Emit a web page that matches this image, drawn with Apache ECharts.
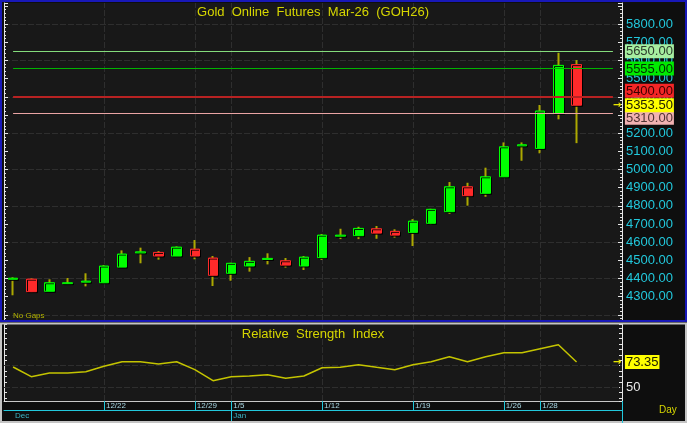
<!DOCTYPE html>
<html><head><meta charset="utf-8">
<script src="https://cdn.jsdelivr.net/npm/echarts@6/dist/echarts.min.js"></script>
<style>html,body{margin:0;padding:0;background:#0e0e0e;}#c{width:687px;height:423px;}</style>
</head><body><div id="c"></div><script>
// ---------------- data ----------------
const dates = ['12/15','12/16','12/17','12/18','12/19','12/22','12/23','12/24','12/25','12/26','12/29','12/30',
  '1/5','1/6','1/7','1/8','1/9','1/12','1/13','1/14','1/15','1/16','1/19','1/20','1/21','1/22','1/23',
  '1/26','1/27','1/28','1/29','1/30'];
const open  = [4396,4397,4330,4372,4380,4377,4463,4541,4544,4524,4562,4513,4429,4469,4505,4498,4469,4515,4633,4636,4674,4660,4654,4704,4768,4905,4869,4960,5130,5116,5309,5577];
const high  = [4407,4401,4396,4403,4429,4474,4555,4570,4551,4577,4612,4524,4487,4518,4539,4513,4524,4645,4674,4685,4689,4671,4727,4784,4931,4927,5010,5149,5149,5355,5642,5602];
const low   = [4308,4322,4328,4368,4357,4371,4460,4484,4504,4522,4506,4359,4388,4438,4478,4460,4447,4502,4617,4617,4619,4625,4579,4696,4755,4801,4850,4957,5048,5089,5276,5145];
const close = [4402,4328,4377,4377,4386,4469,4535,4547,4524,4573,4524,4418,4484,4495,4511,4474,4518,4639,4639,4676,4650,4639,4716,4781,4905,4856,4960,5125,5136,5322,5573,5353.5];
const rsi   = [68.8,59.8,63.2,63.2,64.4,69.4,73.7,73.7,71.6,73.7,66.3,56.1,59.8,60.5,61.7,58.3,60.5,68.1,68.5,70.9,68.5,66.3,70.9,73.7,78.3,73.7,78.3,82.0,82.0,85.7,89.4,73.35];
const levels = [5650, 5555, 5400, 5310];
const priceLabelRange = [4300, 5800];
const weekTicks = ['12/22','12/29','1/5','1/12','1/19','1/26','1/28'];
const monthStarts = ['12/15','1/5'];
const monthNames = ['Dec','Jan'];
const rsiGridLevels = [50, 70];
const rsiAxisLabels = [50];
const titleText = 'Gold  Online  Futures  Mar-26  (GOH26)';
const rsiTitle = 'Relative  Strength  Index';

// ---------------- styles ----------------
const FONT = 'Liberation Sans, Arial, sans-serif';
const levelStyle = [
  {line: '#84dc7c', width: 1, bg: '#a6eea0', fg: '#2c3a2c', shift: 0},
  {line: '#00b400', width: 1, bg: '#00ea00', fg: '#003000', shift: 0},
  {line: '#b82222', width: 2, bg: '#f42626', fg: '#3a0000', shift: -6},
  {line: '#eaa4a4', width: 1, bg: '#f2b2b2', fg: '#503232', shift: 4.5}
];
const GRIDC = '#2e2e2e';
const WICK = '#aca800';
const CYAN = '#22c8dc';
const pad = ['', ' '];
const categories = dates.concat(pad);
const lastIdx = categories.length - 1;
const P_MIN = 4172, P_MAX = 5916;
const R_MIN = 37.3, R_MAX = 108.6;
const HIDDEN_LINE = {color: 'rgba(0,0,0,0)', width: 0, opacity: 1};

function boxLabel(text, bg, fg, shift, arrow) {
  let s = '{box|' + text + '}';
  if (arrow) s = '{arr|\u2192}' + s;
  if (shift < 0) s = s + '\n{sp| }';
  else if (shift > 0) s = '{sp| }\n' + s;
  return {
    show: true, position: 'end', distance: arrow ? 0 : 12, opacity: 1,
    formatter: () => s,
    rich: {
      box: {backgroundColor: bg, color: fg, fontSize: 13, fontFamily: FONT, lineHeight: 13, padding: [1, 1, 0, 1]},
      arr: {color: '#e6e600', fontSize: 10, fontWeight: 'bold', width: 12, fontFamily: 'DejaVu Sans'},
      sp: {fontSize: 1, lineHeight: Math.abs(shift) * 2, color: 'transparent'}
    }
  };
}

const wickData = dates.map((d, i) => [open[i], close[i], low[i], high[i]]);
const bodyData = dates.map((d, i) => [open[i], close[i], Math.min(open[i], close[i]), Math.max(open[i], close[i])]);

const levelLines = levels.map((v, k) => [
  {coord: [0, v], lineStyle: {color: levelStyle[k].line, width: levelStyle[k].width, type: 'solid', opacity: 1},
   label: boxLabel(v.toFixed(2), levelStyle[k].bg, levelStyle[k].fg, levelStyle[k].shift, false)},
  {coord: [lastIdx, v]}
]);
const lastClose = close[close.length - 1];
levelLines.push([
  {coord: [0, lastClose], lineStyle: HIDDEN_LINE, label: boxLabel(lastClose.toFixed(2), '#ffff00', '#202000', 0, true)},
  {coord: [lastIdx, lastClose]}
]);
const lastRsi = rsi[rsi.length - 1];

const vLines = weekTicks.map(d => ({xAxis: d}));
const gridLineStyle = {color: GRIDC, width: 1, type: [6, 2]};

const option = {
  backgroundColor: '#0e0e0e',
  animation: false,
  textStyle: {fontFamily: FONT},
  title: [
    {text: titleText, left: 313, top: 6, textAlign: 'center', padding: 0,
     textStyle: {color: '#d6d600', fontSize: 13, fontWeight: 'normal', fontFamily: FONT}},
    {text: rsiTitle, left: 313, top: 328, textAlign: 'center', padding: 0,
     textStyle: {color: '#d6d600', fontSize: 13, fontWeight: 'normal', fontFamily: FONT}},
    {text: 'No Gaps', left: 13, top: 312, padding: 0,
     textStyle: {color: '#b4b400', fontSize: 8, fontWeight: 'normal', fontFamily: FONT}},
    {text: 'Day', left: 659, top: 405, padding: 0,
     textStyle: {color: '#d6d600', fontSize: 10, fontWeight: 'normal', fontFamily: FONT}}
  ],
  grid: [
    {left: 4, right: 65, top: 3, height: 317, show: true, backgroundColor: '#181818', borderWidth: 0},
    {left: 4, right: 65, top: 324, height: 77, show: true, backgroundColor: '#181818', borderWidth: 0}
  ],
  xAxis: [
    {type: 'category', gridIndex: 0, data: categories, boundaryGap: true,
     axisLine: {show: false}, axisTick: {show: false}, axisLabel: {show: false}, splitLine: {show: false}},
    {type: 'category', gridIndex: 1, data: categories, boundaryGap: true, position: 'bottom',
     axisLine: {show: true, lineStyle: {color: '#c8c8c8', width: 1}},
     axisTick: {show: true, alignWithLabel: true, length: 9, interval: (i, v) => weekTicks.includes(v), lineStyle: {color: CYAN}},
     axisLabel: {show: true, interval: (i, v) => weekTicks.includes(v), color: '#a8d6e2', fontSize: 8, align: 'left', margin: 1, padding: [0, 0, 0, 2], fontFamily: FONT},
     splitLine: {show: false}},
    {type: 'category', gridIndex: 1, data: categories, boundaryGap: true, position: 'bottom', offset: 9,
     axisLine: {show: true, lineStyle: {color: CYAN, width: 1}},
     axisTick: {show: true, alignWithLabel: true, length: 13, interval: (i, v) => monthStarts.indexOf(v) > 0, lineStyle: {color: CYAN}},
     axisLabel: {show: true, interval: (i, v) => monthStarts.includes(v), formatter: v => monthNames[monthStarts.indexOf(v)] || '',
       color: '#3cb4c4', fontSize: 8, align: 'left', margin: 2, padding: [0, 0, 0, 2], fontFamily: FONT},
     splitLine: {show: false}}
  ],
  yAxis: [
    {type: 'value', gridIndex: 0, position: 'right', min: P_MIN, max: P_MAX, splitNumber: 17,
     axisLine: {show: true, lineStyle: {color: '#e6e6e6'}},
     axisTick: {show: true, inside: true, length: 4, lineStyle: {color: '#e6e6e6'}},
     minorTick: {show: true, splitNumber: 5, length: 2, lineStyle: {color: '#e6e6e6'}},
     axisLabel: {show: true, margin: 4, color: CYAN, fontSize: 13, fontFamily: FONT,
       formatter: v => (Math.abs(v % 100) < 1e-6 && v >= priceLabelRange[0] && v <= priceLabelRange[1] ? v.toFixed(2) : '')},
     splitLine: {show: false}},
    {type: 'value', gridIndex: 0, position: 'left', min: P_MIN, max: P_MAX, splitNumber: 17,
     axisLine: {show: true, lineStyle: {color: '#e6e6e6'}},
     axisTick: {show: true, inside: true, length: 4, lineStyle: {color: '#e6e6e6'}},
     minorTick: {show: true, splitNumber: 5, length: 2, lineStyle: {color: '#e6e6e6'}},
     axisLabel: {show: false}, splitLine: {show: false}},
    {type: 'value', gridIndex: 0, position: 'right', min: P_MIN, max: P_MAX, splitNumber: 9, z: 0,
     axisLine: {show: false}, axisTick: {show: false}, axisLabel: {show: false},
     splitLine: {show: true, showMinLine: false, showMaxLine: false, lineStyle: gridLineStyle}},
    {type: 'value', gridIndex: 1, position: 'right', min: R_MIN, max: R_MAX, splitNumber: 14,
     axisLine: {show: true, lineStyle: {color: '#e6e6e6'}},
     axisTick: {show: true, inside: true, length: 3, lineStyle: {color: '#e6e6e6'}},
     axisLabel: {show: true, margin: 4, color: '#e8e8e8', fontSize: 13, fontFamily: FONT,
       formatter: v => (rsiAxisLabels.includes(v) ? String(v) : '')},
     splitLine: {show: false}},
    {type: 'value', gridIndex: 1, position: 'left', min: R_MIN, max: R_MAX, splitNumber: 14,
     axisLine: {show: true, lineStyle: {color: '#e6e6e6'}},
     axisTick: {show: true, inside: true, length: 3, lineStyle: {color: '#e6e6e6'}},
     axisLabel: {show: false}, splitLine: {show: false}}
  ],
  series: [
    {type: 'candlestick', name: 'wick', xAxisIndex: 0, yAxisIndex: 0, data: wickData, barWidth: 1, z: 2, silent: true,
     itemStyle: {color: WICK, color0: WICK, borderColor: WICK, borderColor0: WICK, borderColorDoji: WICK, borderWidth: 2},
     markLine: {z: 1, silent: true, symbol: 'none', label: {show: false}, lineStyle: gridLineStyle, data: vLines}},
    {type: 'candlestick', name: 'GOH26', xAxisIndex: 0, yAxisIndex: 0, data: bodyData, barWidth: 10, z: 3, silent: true,
     itemStyle: {color: '#00ff00', color0: '#ff2a2a', borderColor: '#00ff00', borderColor0: '#ff2a2a', borderColorDoji: '#00ff00', borderWidth: 1,
       shadowColor: 'rgba(0,0,0,0.95)', shadowOffsetX: 1, shadowOffsetY: 1, shadowBlur: 0},
     markLine: {z: 8, silent: true, symbol: 'none', lineStyle: {type: 'solid', width: 1}, data: levelLines}},
    {type: 'line', name: 'RSI', xAxisIndex: 1, yAxisIndex: 3, data: rsi, symbol: 'none', z: 3, silent: true,
     lineStyle: {color: '#c4c400', width: 1.5},
     markLine: {z: 1, silent: true, symbol: 'none', label: {show: false}, lineStyle: gridLineStyle,
       data: vLines.concat(rsiGridLevels.map(v => ({yAxis: v}))).concat([[
         {coord: [0, lastRsi], lineStyle: HIDDEN_LINE, label: boxLabel(lastRsi.toFixed(2), '#ffff00', '#202000', 0, true)},
         {coord: [lastIdx, lastRsi]}
       ]])}}
  ],
  graphic: [
    {type: 'rect', shape: {x: 1, y: 1, width: 685, height: 320}, style: {fill: 'none', stroke: '#1818b8', lineWidth: 2}, silent: true, z: 100},
    {type: 'rect', shape: {x: 1, y: 323.5, width: 685, height: 98.5}, style: {fill: 'none', stroke: '#c4c4c4', lineWidth: 2}, silent: true, z: 100},
    {type: 'line', shape: {x1: 622.5, y1: 401, x2: 622.5, y2: 423}, style: {stroke: CYAN, lineWidth: 1}, silent: true, z: 100}
  ]
};
const chart = echarts.init(document.getElementById('c'), null, {renderer: 'canvas', width: 687, height: 423});
chart.setOption(option);
</script></body></html>
